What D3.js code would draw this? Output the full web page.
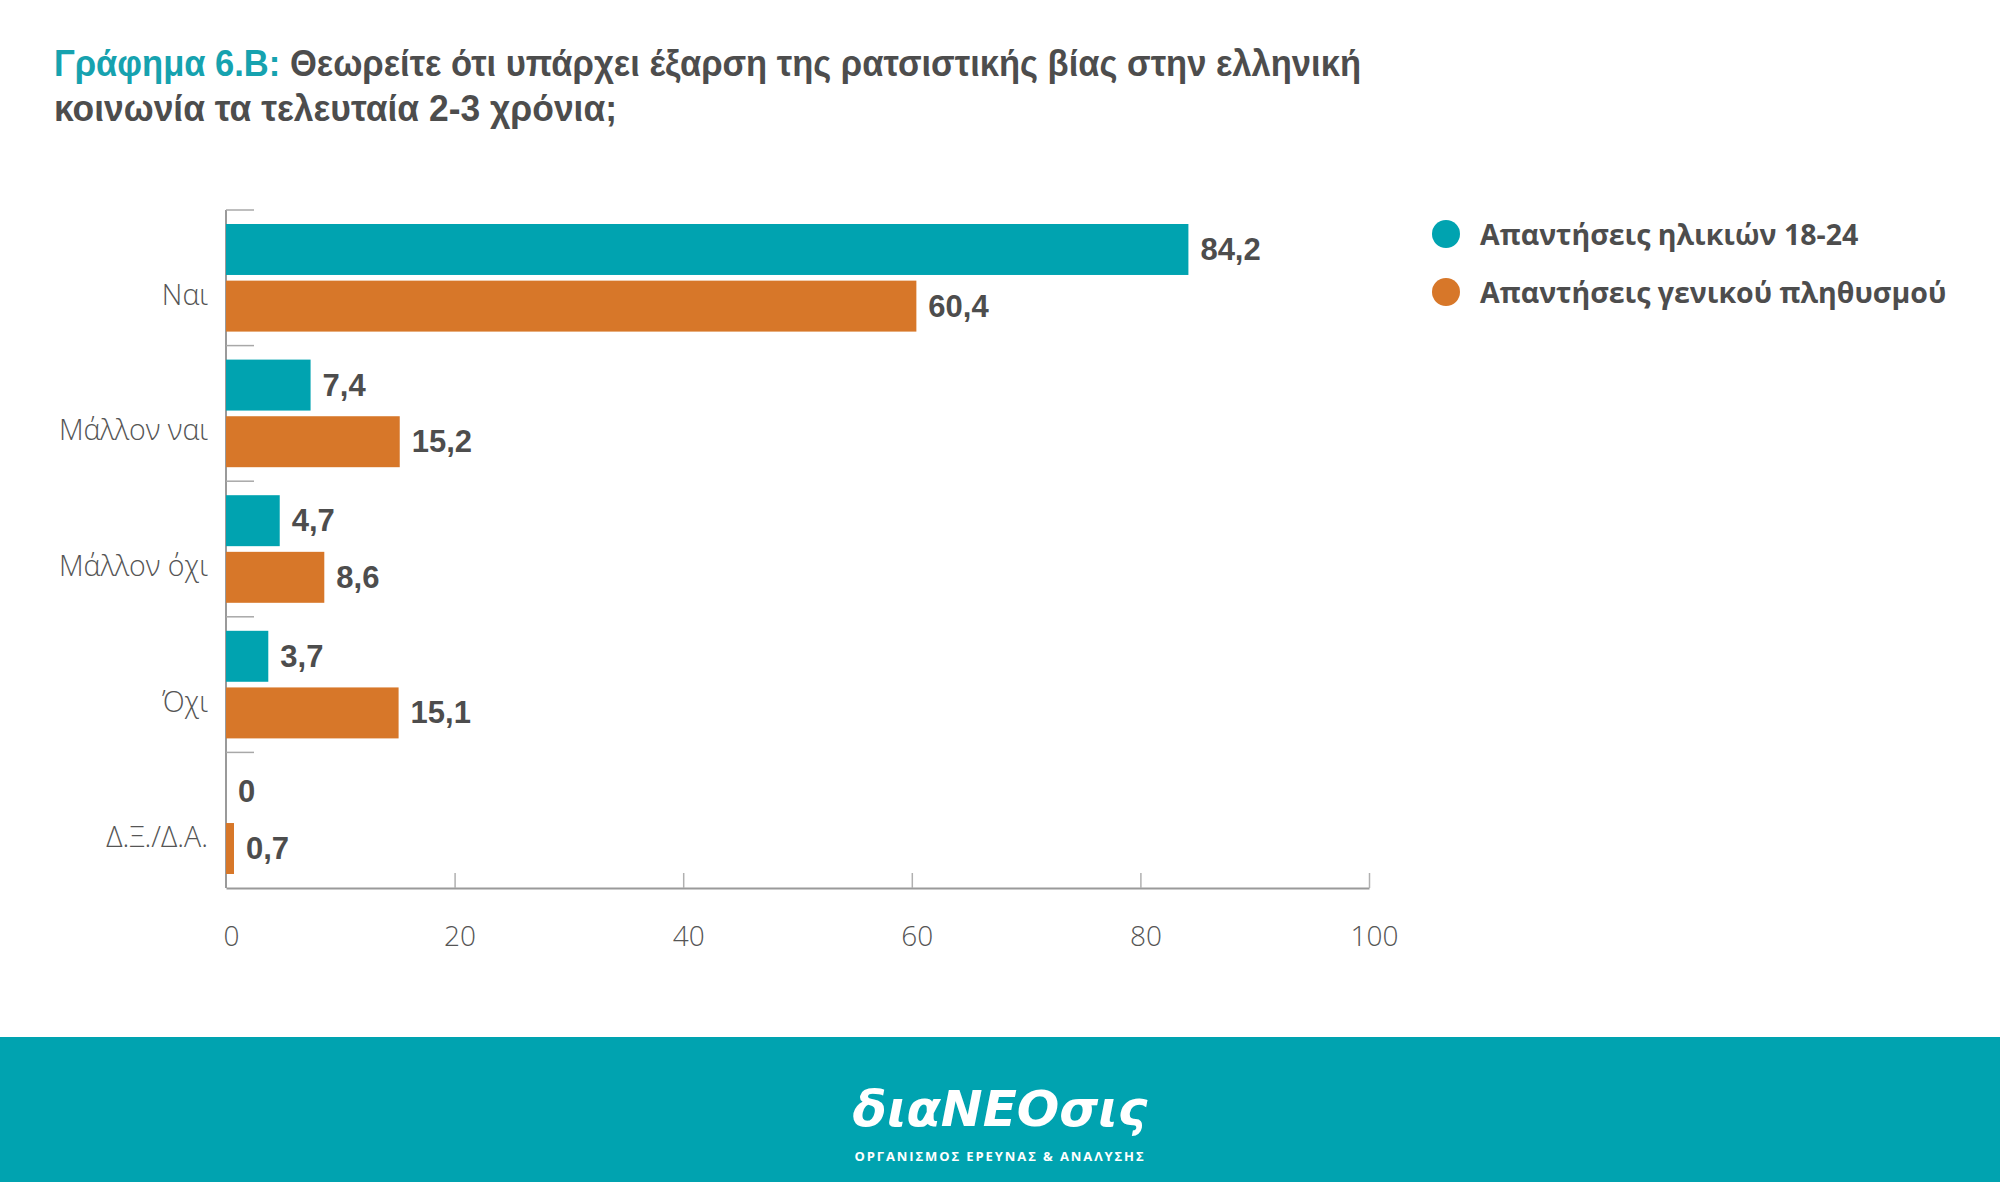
<!DOCTYPE html>
<html><head><meta charset="utf-8">
<script src="https://cdn.jsdelivr.net/npm/d3@7"></script>
<style>
html,body{margin:0;padding:0;background:#fff;}
svg{display:block;}
</style></head>
<body>
<svg id="chart" width="2000" height="1182"></svg>
<script>
const categories = ["Ναι", "Μάλλον ναι", "Μάλλον όχι", "Όχι", "Δ.Ξ./Δ.Α."];
const seriesNames = ["Απαντήσεις ηλικιών 18-24", "Απαντήσεις γενικού πληθυσμού"];
const youthValues = [84.2, 7.4, 4.7, 3.7, 0];
const generalValues = [60.4, 15.2, 8.6, 15.1, 0.7];
const xTicks = [0, 20, 40, 60, 80, 100];
const seriesColors = ["#00A3B0", "#D77729"];

const svg = d3.select("#chart");
const W = 2000, H = 1182;
const gray = "#4D4D4D";
const titleFont = "'Liberation Sans Narrow', 'Liberation Sans', sans-serif";

// Title
const title = svg.append("text").attr("x", 54).attr("y", 76)
  .attr("font-family", titleFont)
  .attr("font-weight", 700).attr("font-size", 37).attr("fill", gray)
  .attr("textLength", 1307).attr("lengthAdjust", "spacingAndGlyphs");
title.append("tspan").attr("fill", "#16A2AF").text("Γράφημα 6.Β: ");
title.append("tspan").text("Θεωρείτε ότι υπάρχει έξαρση της ρατσιστικής βίας στην ελληνική");
svg.append("text").attr("x", 54).attr("y", 121)
  .attr("font-family", titleFont)
  .attr("font-weight", 700).attr("font-size", 37).attr("fill", gray)
  .attr("textLength", 563).attr("lengthAdjust", "spacingAndGlyphs")
  .text("κοινωνία τα τελευταία 2-3 χρόνια;");

// Scales
const x = d3.scaleLinear().domain([0, 100]).range([226, 1369]);
const y0 = d3.scaleBand().domain(categories).range([210, 888]).padding(0);
const y1 = d3.scaleBand().domain(seriesNames).range([14, y0.bandwidth() - 14]).paddingInner(0.1);

const data = categories.map((c, i) => ({cat: c, vals: [youthValues[i], generalValues[i]]}));
const locale = d3.formatLocale({decimal: ",", thousands: ".", grouping: [3], currency: ["", "€"]});
const fmt = locale.format(".1~f");

// x axis
const xAxis = d3.axisBottom(x).tickValues(xTicks).tickSizeInner(-15).tickSizeOuter(0).tickPadding(38)
  .tickFormat(d3.format("d"));
const gx = svg.append("g").attr("transform", "translate(0,888)").call(xAxis);
gx.select(".domain").attr("stroke", "#9a9a9a").attr("stroke-width", 2);
gx.selectAll(".tick line").attr("stroke", "#b0b0b0").attr("stroke-width", 1.5);
gx.selectAll(".tick").filter(d => d === 0).select("line").remove();
gx.selectAll(".tick text").attr("font-family", "'Open Sans', sans-serif").attr("font-weight", 300)
  .attr("font-size", 28).attr("fill", "#555").attr("dx", 5);

// y axis line + group separators
svg.append("line").attr("x1", x(0)).attr("x2", x(0)).attr("y1", y0.range()[0]).attr("y2", y0.range()[1])
  .attr("stroke", "#9a9a9a").attr("stroke-width", 2);
svg.selectAll(".sep").data(categories).join("line").attr("class", "sep")
  .attr("x1", x(0)).attr("x2", x(0) + 28)
  .attr("y1", d => y0(d)).attr("y2", d => y0(d))
  .attr("stroke", "#a8a8a8").attr("stroke-width", 1.5);

// category labels
svg.selectAll(".cat").data(categories).join("text").attr("class", "cat")
  .attr("x", 208).attr("y", d => y0(d) + y0.bandwidth() / 2 + 16)
  .attr("text-anchor", "end").attr("dominant-baseline", "central")
  .attr("font-family", "'Open Sans', sans-serif").attr("font-weight", 300)
  .attr("font-size", 28.5).attr("fill", "#555").text(d => d);

// bars
const groups = svg.selectAll(".grp").data(data).join("g").attr("class", "grp")
  .attr("transform", d => `translate(0,${y0(d.cat)})`);
groups.selectAll("rect").data(d => d.vals.map((v, j) => ({v, s: seriesNames[j], j})))
  .join("rect")
  .attr("x", x(0)).attr("y", d => y1(d.s))
  .attr("width", d => x(d.v) - x(0)).attr("height", y1.bandwidth())
  .attr("fill", d => seriesColors[d.j]);
groups.selectAll(".val").data(d => d.vals.map((v, j) => ({v, s: seriesNames[j], j})))
  .join("text").attr("class", "val")
  .attr("x", d => x(d.v) + 12).attr("y", d => y1(d.s) + y1.bandwidth() / 2)
  .attr("dominant-baseline", "central")
  .attr("font-family", titleFont)
  .attr("font-weight", 700).attr("font-size", 31).attr("fill", gray)
  .text(d => fmt(d.v));

// legend
const leg = svg.selectAll(".leg").data(seriesNames).join("g").attr("class", "leg")
  .attr("transform", (d, i) => `translate(1446,${234 + i * 58})`);
leg.append("circle").attr("r", 14).attr("fill", (d, i) => seriesColors[i]);
leg.append("text").attr("x", 34).attr("dominant-baseline", "central")
  .attr("font-family", "'Open Sans', sans-serif").attr("font-weight", 700)
  .attr("font-size", 28.5).attr("fill", gray).text(d => d);

// footer
svg.append("rect").attr("x", 0).attr("y", 1037).attr("width", W).attr("height", H - 1037).attr("fill", "#00A3B0");
svg.append("text").attr("x", 1000).attr("y", 1126).attr("text-anchor", "middle")
  .attr("font-family", "'DejaVu Sans', sans-serif").attr("font-style", "italic").attr("font-weight", 700)
  .attr("font-size", 50).attr("fill", "#fff").text("διαNEOσις");
svg.append("text").attr("x", 1000).attr("y", 1161).attr("text-anchor", "middle")
  .attr("font-family", "'Open Sans', sans-serif").attr("font-weight", 700)
  .attr("font-size", 13).attr("letter-spacing", 1.9).attr("fill", "#fff")
  .text("ΟΡΓΑΝΙΣΜΟΣ ΕΡΕΥΝΑΣ & ΑΝΑΛΥΣΗΣ");
</script>
</body></html>
